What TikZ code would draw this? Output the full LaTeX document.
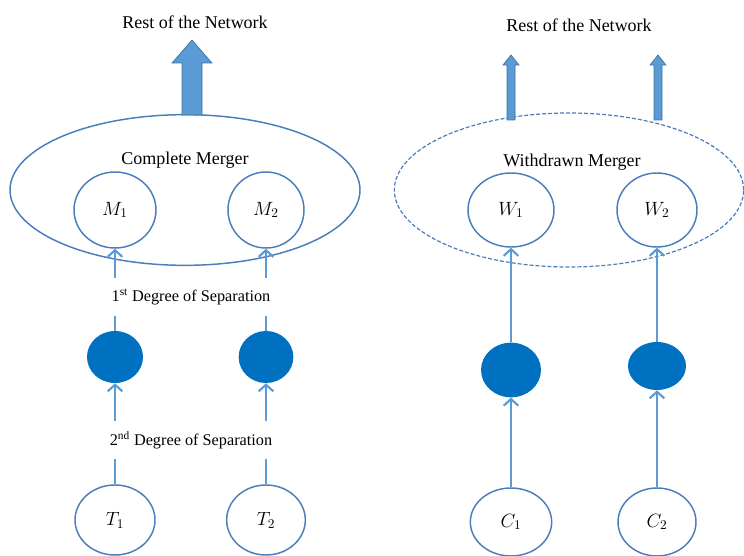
\documentclass[tikz,border=0pt]{standalone}
\usepackage{fontspec}
\setmainfont{Liberation Serif}
\usetikzlibrary{shapes.geometric,arrows.meta}
\definecolor{lineblue}{HTML}{5B9BD5}
\definecolor{circblue}{HTML}{4A7EBB}
\definecolor{dotblue}{HTML}{0070C0}
\definecolor{arrowedge}{HTML}{41719C}
\begin{document}
\begin{tikzpicture}[x=0.75pt,y=-0.75pt,
  font=\fontsize{13.5}{16}\selectfont,
  nd/.style={ellipse, draw=circblue, line width=1.1pt, fill=white, inner sep=0pt, font=\fontsize{14}{16}\selectfont},
  dotnd/.style={ellipse, fill=dotblue, inner sep=0pt},
  conn/.style={draw=lineblue, line width=2pt, -{Straight Barb[length=5pt,width=11pt,line width=1.6pt]}},
  lab/.style={fill=white, inner xsep=5pt, inner ysep=8pt, font=\fontsize{12.2}{14}\selectfont},
  grp/.style={ellipse, draw=circblue, line width=1.1pt, inner sep=0pt},
  blockarrow/.style={fill=lineblue, draw=arrowedge, line width=0.5pt}]
\useasboundingbox (0,0) rectangle (744,556);

% group ellipses
\node[grp, minimum width=262.5pt, minimum height=113pt] (bigE) at (185,190) {};
\node[grp, dash pattern=on 3pt off 1.5pt, line width=0.9pt, minimum width=262pt, minimum height=115.5pt] (wdE) at (569,190) {};

% block arrows
\path[blockarrow] (182,115) -- (182,63) -- (172,63) -- (192,40) -- (212,63) -- (202,63) -- (202,115) -- cycle;
\path[blockarrow] (507,120) -- (507,65) -- (503,65) -- (511,55) -- (519,65) -- (515,65) -- (515,120) -- cycle;
\path[blockarrow] (654,120) -- (654,65) -- (650,65) -- (658,55) -- (666,65) -- (662,65) -- (662,120) -- cycle;

% texts
\node (rest1) at (195,22) {Rest of the Network};
\node (rest2) at (579,25) {Rest of the Network};
\node (cm) at (185,160) {Complete Merger};
\node (wm) at (572,162) {Withdrawn Merger};

% left nodes
\node[nd, minimum width=61.5pt, minimum height=57pt] (M1) at (115,210) {$M_1$};
\node[nd, minimum width=57pt, minimum height=57pt] (M2) at (266,210) {$M_2$};
\node[dotnd, minimum width=42pt, minimum height=39pt] (D1) at (115,357) {};
\node[dotnd, minimum width=41pt, minimum height=39pt] (D2) at (266,357) {};
\node[nd, minimum width=60pt, minimum height=52.5pt] (T1) at (115,520) {$T_1$};
\node[nd, minimum width=59pt, minimum height=52.5pt] (T2) at (266,520) {$T_2$};

% right nodes
\node[nd, minimum width=64.5pt, minimum height=55.5pt] (W1) at (511,210) {$W_1$};
\node[nd, minimum width=60pt, minimum height=55.5pt] (W2) at (657,210) {$W_2$};
\node[dotnd, minimum width=45pt, minimum height=41pt] (E1) at (511,370) {};
\node[dotnd, minimum width=43.5pt, minimum height=36pt] (E2) at (657,366) {};
\node[nd, minimum width=61pt, minimum height=51pt] (C1) at (511,522) {$C_1$};
\node[nd, minimum width=58.5pt, minimum height=51pt] (C2) at (657,522) {$C_2$};

% connectors
\draw[conn] (D1) -- (M1);
\draw[conn] (D2) -- (M2);
\draw[conn] (T1) -- (D1);
\draw[conn] (T2) -- (D2);
\draw[conn] (E1) -- (W1);
\draw[conn] (E2) -- (W2);
\draw[conn] (C1) -- (E1);
\draw[conn] (C2) -- (E2);

% separation labels
\node[lab] (lab1) at (191,297) {1\textsuperscript{st} Degree of Separation};
\node[lab] (lab2) at (191,440) {2\textsuperscript{nd} Degree of Separation};
\end{tikzpicture}
\end{document}
